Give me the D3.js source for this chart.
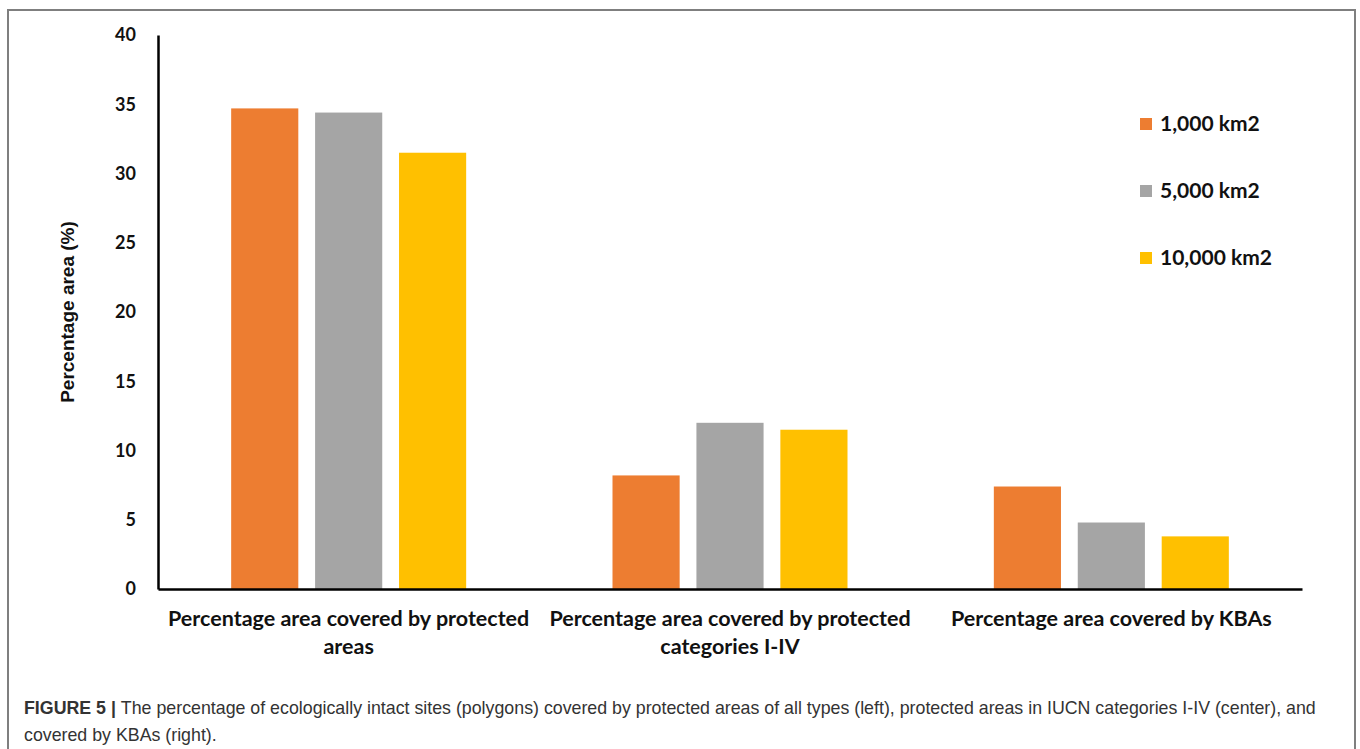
<!DOCTYPE html>
<html lang="en">
<head>
  <meta charset="UTF-8" />
  <title>Figure 5</title>
  <script src="https://d3js.org/d3.v7.min.js"></script>
  <style>
    body {
      margin: 0;
      background: #fff;
    }
    svg {
      display: block;
    }
    .tick text, .cat-label {
      font-family: Lato, "Open Sans", sans-serif;
      font-weight: bold;
      fill: #111;
    }
  </style>
</head>
<body>
  <svg width="1360" height="749"></svg>

  <script>
    const categories = [
      ["Percentage area covered by protected", "areas"],
      ["Percentage area covered by protected", "categories I-IV"],
      ["Percentage area covered by KBAs"]
    ];
    const seriesNames = ["1,000 km2", "5,000 km2", "10,000 km2"];
    const seriesColors = ["#ed7d31", "#a5a5a5", "#ffc000"];
    const values1000 = [34.7, 8.2, 7.4];
    const values5000 = [34.4, 12.0, 4.8];
    const values10000 = [31.5, 11.5, 3.8];
    const yTicks = [0, 5, 10, 15, 20, 25, 30, 35, 40];

    const allValues = [values1000, values5000, values10000];

    const svg = d3.select("svg"),
          margin = { top: 35, right: 58, bottom: 160, left: 158 },
          width = +svg.attr("width") - margin.left - margin.right,
          height = +svg.attr("height") - margin.top - margin.bottom,
          g = svg.append("g").attr("transform", `translate(${margin.left},${margin.top})`);

    // outer frame
    svg.append("path")
      .attr("d", "M8,749 V10 H1355 V749")
      .attr("fill", "none")
      .attr("stroke", "#7f7f7f")
      .attr("stroke-width", 2);

    const flatData = [];
    categories.forEach((c, i) => {
      seriesNames.forEach((s, j) => {
        flatData.push({ cat: i, series: s, color: seriesColors[j], value: allValues[j][i] });
      });
    });

    const x = d3.scaleBand().domain(d3.range(categories.length)).range([0, width]);
    const xInner = d3.scaleBand().domain(seriesNames).range([0, 235]).paddingInner(0.2);
    const y = d3.scaleLinear().domain([0, 40]).range([height, 0]);

    // y axis
    const yAxis = g.append("g")
      .call(d3.axisLeft(y).tickValues(yTicks).tickSize(0).tickPadding(22));
    yAxis.select(".domain").attr("stroke", "#000").attr("stroke-width", 2.5);
    yAxis.selectAll(".tick text").style("font-size", "18px");

    // bars
    g.selectAll("rect.bar")
      .data(flatData)
      .join("rect")
      .attr("class", "bar")
      .attr("x", d => x(d.cat) + (x.bandwidth() - 235) / 2 + xInner(d.series))
      .attr("y", d => y(d.value))
      .attr("width", xInner.bandwidth())
      .attr("height", d => height - y(d.value))
      .attr("fill", d => d.color);

    // x axis
    const xAxis = g.append("g")
      .attr("transform", `translate(0,${height})`)
      .call(d3.axisBottom(x).tickSize(0).tickFormat(""));
    xAxis.select(".domain").attr("stroke", "#000").attr("stroke-width", 2.5);
    xAxis.selectAll(".tick text").remove();

    xAxis.selectAll(".tick").each(function(d) {
      const tick = d3.select(this);
      categories[d].forEach((line, k) => {
        tick.append("text")
          .attr("class", "cat-label")
          .attr("text-anchor", "middle")
          .attr("y", 37 + k * 28)
          .style("font-size", "21.5px")
          .text(line);
      });
    });

    // y axis title
    svg.append("text")
      .attr("transform", "translate(74,312) rotate(-90)")
      .attr("text-anchor", "middle")
      .style("font-family", "'Liberation Sans', Arial, sans-serif")
      .style("font-weight", "bold")
      .style("font-size", "19px")
      .style("fill", "#111")
      .text("Percentage area (%)");

    // legend
    const legend = svg.append("g").attr("transform", "translate(1140,118)");
    const rows = legend.selectAll("g")
      .data(seriesNames)
      .join("g")
      .attr("transform", (d, i) => `translate(0,${i * 67})`);
    rows.append("rect")
      .attr("width", 12)
      .attr("height", 12)
      .attr("fill", (d, i) => seriesColors[i]);
    rows.append("text")
      .attr("x", 20)
      .attr("y", 13)
      .style("font-family", "Lato, 'Open Sans', sans-serif")
      .style("font-weight", "bold")
      .style("font-size", "21px")
      .style("fill", "#111")
      .text(d => d);

    // caption
    const caption = svg.append("text")
      .attr("x", 24)
      .attr("y", 714)
      .style("font-family", "'Liberation Sans', Arial, sans-serif")
      .style("font-size", "17.8px")
      .style("fill", "#333");
    caption.append("tspan")
      .style("font-weight", "bold")
      .text("FIGURE 5 | ");
    caption.append("tspan")
      .text("The percentage of ecologically intact sites (polygons) covered by protected areas of all types (left), protected areas in IUCN categories I-IV (center), and");
    svg.append("text")
      .attr("x", 24)
      .attr("y", 741)
      .style("font-family", "'Liberation Sans', Arial, sans-serif")
      .style("font-size", "17.8px")
      .style("fill", "#333")
      .text("covered by KBAs (right).");
  </script>
</body>
</html>
